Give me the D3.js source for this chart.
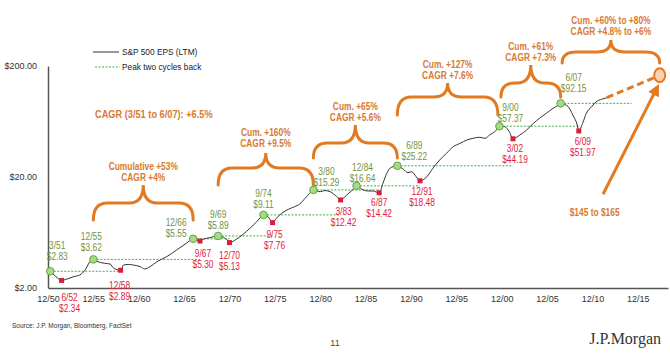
<!DOCTYPE html>
<html lang="en">
<head>
<meta charset="utf-8">
<title>S&P 500 EPS cycles</title>
<script src="https://d3js.org/d3.v7.min.js"></script>
<style>
  body { margin: 0; background: #fff; }
  svg { font-family: "Liberation Sans", Arial, sans-serif; }
</style>
</head>
<body>
<svg id="chart" width="670" height="353"></svg>
<script>
// S&P 500 EPS (LTM)
var epsDates = ["1951-03","1951-10","1952-06","1953-01","1953-10","1954-06","1955-01","1955-07","1955-12",
  "1956-06","1957-03","1957-10","1958-03","1958-12","1959-04","1959-10","1960-05","1961-02","1961-08",
  "1962-03","1962-12","1964-01","1965-02","1966-03","1966-12","1967-09","1968-01","1968-10","1969-09",
  "1970-04","1970-10","1970-12","1971-09","1972-06","1973-03","1973-12","1974-06","1974-09","1975-03",
  "1975-09","1976-02","1976-09","1977-06","1978-02","1978-09","1979-04","1979-10","1980-03","1980-12",
  "1981-06","1982-01","1982-10","1983-03","1983-11","1984-08","1984-12","1985-09","1986-03","1986-10",
  "1987-02","1987-06","1987-11","1988-04","1988-10","1989-06","1990-02","1990-08","1991-01","1991-07",
  "1991-12","1992-09","1993-05","1994-02","1994-11","1995-08","1996-05","1997-02","1997-10","1998-07",
  "1999-02","1999-08","2000-04","2000-09","2001-04","2001-10","2002-03","2002-12","2003-09","2004-06",
  "2005-02","2005-11","2006-08","2007-03","2007-06","2008-04","2008-10","2009-04","2009-06","2009-11",
  "2010-04","2010-11","2011-05","2011-12","2012-07"]
var epsValues = [2.83,2.55,2.34,2.41,2.53,2.62,2.90,3.41,3.62,
  3.45,3.34,3.29,3.01,2.89,3.22,3.26,3.22,3.11,2.97,
  3.11,3.45,3.83,4.40,5.06,5.55,5.30,5.49,5.68,5.89,
  5.72,5.33,5.13,5.49,6.09,6.90,7.91,8.78,9.11,8.78,
  7.76,8.49,9.42,10.23,10.80,11.42,12.86,14.26,15.29,14.75,
  15.10,14.75,13.29,12.42,13.77,15.60,16.64,15.28,14.96,14.96,
  14.65,14.42,17.54,21.60,24.46,25.22,23.47,21.87,22.30,20.10,
  18.48,20.10,23.96,28.46,32.70,37.50,40.20,43.10,44.60,45.60,
  44.60,47.80,52.00,57.37,56.80,51.20,44.19,47.80,53.00,60.90,
  67.60,75.00,83.20,89.00,92.15,86.00,72.40,58.80,51.97,60.90,
  75.00,86.00,95.40,100.20,103.60]

// cycle peaks and troughs
var peakDates = ["1951-03","1955-12","1966-12","1969-09","1974-09","1980-03","1984-12","1989-06","2000-09","2007-06"]
var peakValues = [2.83,3.62,5.55,5.89,9.11,15.29,16.64,25.22,57.37,92.15]
var troughDates = ["1952-06","1958-12","1967-09","1970-12","1975-09","1983-03","1987-06","1991-12","2002-03","2009-06"]
var troughValues = [2.34,2.89,5.30,5.13,7.76,12.42,14.42,18.48,44.19,51.97]
var lastPeakLineEnd = "2015-04"

// forecast
var forecastDate = "2018-05"
var forecastValue = 165
var forecastText = "$145 to $165"

// growth between peaks (from peak index -> to peak index, -1 = forecast)
var cycleFrom = [1, 3, 5, 7, 8, 9]
var cycleTo = [2, 5, 7, 8, 9, -1]
var cycleNotes = [
  ["Cumulative +53%", "CAGR +4%"],
  ["Cum. +160%", "CAGR +9.5%"],
  ["Cum. +65%", "CAGR +5.6%"],
  ["Cum. +127%", "CAGR +7.6%"],
  ["Cum. +61%", "CAGR +7.3%"],
  ["Cum. +60% to +80%", "CAGR +4.8% to +6%"]
]
var cagrNote = "CAGR (3/51 to 6/07): +6.5%"

var xTickDates = ["1950-12","1955-12","1960-12","1965-12","1970-12","1975-12","1980-12",
  "1985-12","1990-12","1995-12","2000-12","2005-12","2010-12","2015-12"]
var yTickValues = [2, 20, 200]

// layout
var orange = "#e27a22", orangeText = "#d97a30"
var greenText = "#76923c", redText = "#e0213a"
var squeeze = 0.84   // the slide's font is narrower than Liberation Sans
var peakLabelOff = [[7,-26],[-2,-23],[-17,-16],[0,-21],[0,-21],[13,-18],[6,-18],[17,-20],[11,-19],[13,-26]]
var troughLabelOff = [[8,17],[-1,15],[3,12],[0,13],[2,12],[3,12],[0,10],[2,11],[2,10],[4,11]]
var braceLayout = [
  {yEnd:220, yH:203, yTip:185, tY:166},
  {yEnd:185, yH:168, yTip:153, tY:132},
  {yEnd:158, yH:143, yTip:125, tY:106},
  {yEnd:115, yH:97,  yTip:83,  tY:64},
  {yEnd:97,  yH:83,  yTip:65,  tY:46},
  {yEnd:63,  yH:52,  yTip:40,  tY:20}
]

var parse = d3.timeParse("%Y-%m")
var fmtDate = d3.timeFormat("%-m/%y")
var fmtUsd = function(v){ return "$" + d3.format(".2f")(v) }

var svg = d3.select("#chart")

// multi-line text, squeezed horizontally around its anchor
function narrowText(cx, cy, lines, lineH, size, color, bold, anchor){
  var g = svg.append("g").attr("transform", "translate(" + cx + "," + cy + ") scale(" + squeeze + ",1)")
  var t = g.append("text")
    .attr("text-anchor", anchor || "middle")
    .attr("font-size", size).attr("fill", color)
    .attr("font-weight", bold ? "bold" : "normal")
  lines.forEach(function(s, k){
    t.append("tspan").attr("x", 0).attr("y", k * lineH).attr("dy", "0.35em").text(s)
  })
  return g
}

var x = d3.scaleTime()
  .domain([parse("1950-12"), parse("2019-04")])
  .range([48, 668])
var y = d3.scaleLog()
  .domain([2, 200])
  .range([288, 66])

var eps = epsDates.map(function(d, i){ return {date: parse(d), value: epsValues[i]} })
var peaks = peakDates.map(function(d, i){ return {date: parse(d), value: peakValues[i]} })
var troughs = troughDates.map(function(d, i){ return {date: parse(d), value: troughValues[i]} })

// axes
svg.append("g")
  .attr("transform", "translate(0,288)")
  .call(d3.axisBottom(x).tickValues(xTickDates.map(parse)).tickFormat(fmtDate).tickSize(0).tickPadding(8))
svg.append("g")
  .attr("transform", "translate(48,0)")
  .call(d3.axisLeft(y).tickValues(yTickValues).tickFormat(fmtUsd).tickSize(0).tickPadding(11))
svg.selectAll(".domain").attr("stroke", "#555").attr("stroke-width", 1.5)
svg.selectAll(".tick text").attr("font-size", 9).attr("fill", "#333")
  .attr("font-family", "Liberation Sans, Arial, sans-serif")

// green dotted: peak two cycles back
peaks.forEach(function(p, i){
  var end = i + 1 < troughs.length ? troughs[i + 1].date : parse(lastPeakLineEnd)
  svg.append("line")
    .attr("x1", x(p.date)).attr("x2", x(end))
    .attr("y1", y(p.value)).attr("y2", y(p.value))
    .attr("stroke", "#3fae3f").attr("stroke-width", 1)
    .attr("stroke-dasharray", "2,1.5")
})

// EPS line
svg.append("path")
  .datum(eps)
  .attr("fill", "none")
  .attr("stroke", "#333")
  .attr("stroke-width", 1)
  .attr("d", d3.line().x(function(d){ return x(d.date) }).y(function(d){ return y(d.value) }).curve(d3.curveMonotoneX))

// projection
var last = eps[eps.length - 1]
svg.append("line")
  .attr("x1", x(last.date)).attr("y1", y(last.value))
  .attr("x2", x(parse(forecastDate))).attr("y2", y(forecastValue))
  .attr("stroke", orange).attr("stroke-width", 3)
  .attr("stroke-dasharray", "7,4")
svg.append("ellipse")
  .attr("cx", x(parse(forecastDate))).attr("cy", y(forecastValue))
  .attr("rx", 5.5).attr("ry", 7)
  .attr("fill", "#fbd2ad").attr("stroke", orange).attr("stroke-width", 2)

// arrow to the forecast
svg.append("defs").append("marker")
  .attr("id", "head").attr("viewBox", "0 0 10 10")
  .attr("refX", 3).attr("refY", 5)
  .attr("markerWidth", 4).attr("markerHeight", 4)
  .attr("orient", "auto")
  .append("path").attr("d", "M0,0 L10,5 L0,10 z").attr("fill", orange)
svg.append("line")
  .attr("x1", x(parse("2012-02"))).attr("y1", y(13.97))
  .attr("x2", x(parse("2017-11"))).attr("y2", y(118))
  .attr("stroke", orange).attr("stroke-width", 3)
  .attr("marker-end", "url(#head)")
narrowText(x(parse("2011-03")), y(9.67), [forecastText], 0, 10, orangeText, true)

// braces between peaks
function bracePath(x0, x1, b){
  var xm = (x0 + x1) / 2, r = Math.min(14, (x1 - x0) / 4)
  return "M" + x0 + "," + b.yEnd +
    " Q" + x0 + "," + b.yH + " " + (x0 + r) + "," + b.yH +
    " L" + (xm - r) + "," + b.yH +
    " Q" + xm + "," + b.yH + " " + xm + "," + b.yTip +
    " Q" + xm + "," + b.yH + " " + (xm + r) + "," + b.yH +
    " L" + (x1 - r) + "," + b.yH +
    " Q" + x1 + "," + b.yH + " " + x1 + "," + b.yEnd
}
braceLayout.forEach(function(b, i){
  var x0 = x(peaks[cycleFrom[i]].date)
  var x1 = cycleTo[i] >= 0 ? x(peaks[cycleTo[i]].date) : x(parse(forecastDate))
  if (i == 3) x1 -= 1.5
  if (i >= 4) x0 += 1.5
  svg.append("path")
    .attr("d", bracePath(x0, x1, b))
    .attr("fill", "none").attr("stroke", orange)
    .attr("stroke-width", 3).attr("stroke-linecap", "round")
  narrowText((x0 + x1) / 2, b.tY, cycleNotes[i], 11.5, 10, orangeText, true)
})

narrowText(95, 114, [cagrNote], 0, 11, orangeText, true, "start")

// markers + labels
svg.selectAll(".peak").data(peaks).enter().append("circle")
  .attr("class", "peak")
  .attr("cx", function(d){ return x(d.date) }).attr("cy", function(d){ return y(d.value) })
  .attr("r", 3.8).attr("fill", "#a9d88a").attr("stroke", "#5fa83a").attr("stroke-width", 1)
svg.selectAll(".trough").data(troughs).enter().append("rect")
  .attr("class", "trough")
  .attr("x", function(d){ return x(d.date) - 2.5 }).attr("y", function(d){ return y(d.value) - 2.5 })
  .attr("width", 5).attr("height", 5).attr("fill", "#d81e3a")
peaks.forEach(function(d, i){
  narrowText(x(d.date) + peakLabelOff[i][0], y(d.value) + peakLabelOff[i][1],
    [fmtDate(d.date), fmtUsd(d.value)], 11, 10, greenText, false)
})
troughs.forEach(function(d, i){
  narrowText(x(d.date) + troughLabelOff[i][0], y(d.value) + troughLabelOff[i][1],
    [fmtDate(d.date), fmtUsd(d.value)], 11, 10, redText, false)
})

// legend
var legend = svg.append("g").attr("font-size", 8.3).attr("fill", "#222")
legend.append("line").attr("x1", 93).attr("x2", 119).attr("y1", 52).attr("y2", 52)
  .attr("stroke", "#333").attr("stroke-width", 1)
legend.append("text").attr("x", 122).attr("y", 52).attr("dy", "0.35em").text("S&P 500 EPS (LTM)")
legend.append("line").attr("x1", 95).attr("x2", 120).attr("y1", 67).attr("y2", 67)
  .attr("stroke", "#3fae3f").attr("stroke-width", 1).attr("stroke-dasharray", "2,1.5")
legend.append("text").attr("x", 122).attr("y", 67).attr("dy", "0.35em").text("Peak two cycles back")

// footer
svg.append("text").attr("x", 12).attr("y", 328)
  .attr("font-size", 6.5).attr("fill", "#333")
  .text("Source: J.P. Morgan, Bloomberg, FactSet")
svg.append("text").attr("x", 335).attr("y", 346).attr("text-anchor", "middle")
  .attr("font-size", 9).attr("fill", "#444").text("11")
svg.append("text").attr("x", 661).attr("y", 344).attr("text-anchor", "end")
  .attr("font-family", "Liberation Serif, serif").attr("font-size", 16).attr("fill", "#333")
  .text("J.P.Morgan")
</script>
</body>
</html>
